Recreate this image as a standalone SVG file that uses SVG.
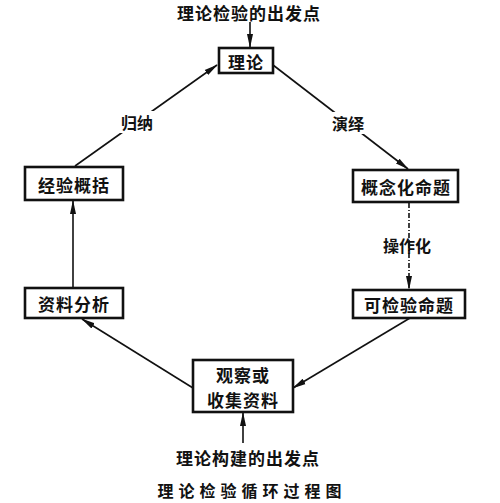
<svg xmlns="http://www.w3.org/2000/svg" width="500" height="503" viewBox="0 0 500 503">
<defs>
<marker id="ah" markerWidth="14" markerHeight="8" refX="13" refY="4" orient="auto" markerUnits="userSpaceOnUse">
<path d="M0,1 L14,4 L0,7 Z" fill="#111"/>
</marker>
<style>
.box{fill:#fff;stroke:#111;stroke-width:2.6}
.t{font-family:"Noto Sans CJK SC","Noto Sans CJK JP",sans-serif;font-size:17px;font-weight:bold;fill:#111;text-anchor:middle;dominant-baseline:central;letter-spacing:1px}
.lbl{font-family:"Noto Sans CJK SC","Noto Sans CJK JP",sans-serif;font-size:16px;font-weight:bold;fill:#111;text-anchor:middle;dominant-baseline:central}
.ln{stroke:#111;stroke-width:1.6;fill:none;marker-end:url(#ah)}
.dash{stroke:#111;stroke-width:1.6;fill:none;stroke-dasharray:5,2,1,2;marker-end:url(#ah)}
</style>
</defs>
<rect width="500" height="503" fill="#fff"/>
<g id="connectors">
<line class="ln" x1="250" y1="22" x2="250" y2="47"/>
<line class="ln" x1="75" y1="166" x2="217" y2="65"/>
<line class="ln" x1="273" y1="65" x2="408" y2="169"/>
<line class="dash" x1="409" y1="203" x2="409" y2="289"/>
<line class="ln" x1="410" y1="318" x2="293" y2="388"/>
<line class="ln" x1="193" y1="388" x2="82" y2="319"/>
<line class="ln" x1="73" y1="288" x2="73" y2="201"/>
<line class="ln" x1="243" y1="443" x2="243" y2="413"/>
</g>
<g id="label-guina"><rect x="117" y="111" width="40" height="22" fill="#fff"/><text class="lbl" x="137" y="122">归纳</text></g>
<g id="label-yanyi"><rect x="328" y="112" width="40" height="22" fill="#fff"/><text class="lbl" x="348" y="123">演绎</text></g>
<g id="label-caozuohua"><rect x="380" y="234" width="56" height="22" fill="#fff" fill-opacity="0"/><text class="lbl" x="407" y="245">操作化</text></g>
<g id="start-test"><text class="t" x="249" y="12">理论检验的出发点</text></g>
<g id="theory"><rect class="box" x="219" y="48" width="54" height="25"/><text class="t" x="246" y="61">理论</text></g>
<g id="concept"><rect class="box" x="353" y="170" width="105" height="32"/><text class="t" x="406" y="186">概念化命题</text></g>
<g id="testable"><rect class="box" x="353" y="290" width="112" height="28"/><text class="t" x="409" y="304">可检验命题</text></g>
<g id="observe"><rect class="box" x="193" y="360" width="100" height="52"/><text class="t" x="243" y="374">观察或</text><text class="t" x="243" y="399">收集资料</text></g>
<g id="analysis"><rect class="box" x="25" y="288" width="98" height="30"/><text class="t" x="74" y="303">资料分析</text></g>
<g id="generalize"><rect class="box" x="25" y="167" width="98" height="33"/><text class="t" x="74" y="184">经验概括</text></g>
<g id="start-build"><text class="t" x="248" y="457">理论构建的出发点</text></g>
<g id="caption"><text class="t" x="252" y="490" style="letter-spacing:5px;font-size:16px">理论检验循环过程图</text></g>
</svg>
